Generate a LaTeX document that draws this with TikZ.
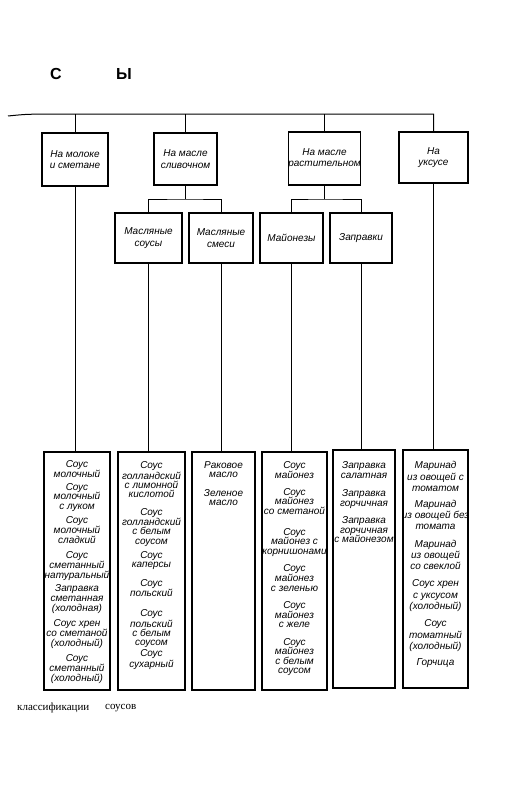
\documentclass[tikz,border=0pt]{standalone}
\usepackage{fontspec}
\newfontfamily\hand{Liberation Sans}
\newfontfamily\titlefont{Liberation Sans}
\newfontfamily\capfont{Liberation Serif}
\tikzset{
  box/.style={draw, line width=1.3pt, rectangle, inner sep=0pt, align=center,
    font=\hand\itshape\fontsize{10}{11.5}\selectfont},
  bigbox/.style={draw, line width=1.6pt, rectangle, inner sep=0pt},
  txt/.style={anchor=north, align=center, inner sep=0pt,
    font=\hand\itshape\fontsize{10}{#1}\selectfont},
  txt/.default=9.8,
  conn/.style={line width=1pt},
}
\begin{document}
\begin{tikzpicture}[x=1pt,y=-1pt]
\useasboundingbox (0,0) rectangle (510,800);
% title
\node[font=\titlefont\bfseries\fontsize{16}{16}\selectfont, inner sep=0pt] (ti1) at (56,74) {С};
\node[font=\titlefont\bfseries\fontsize{16}{16}\selectfont, inner sep=0pt] (ti2) at (124,74) {Ы};
% top level
\node[box, minimum width=66, minimum height=53] (T1) at (75,159.5) {На молоке\\и сметане};
\node[box, minimum width=63, minimum height=52] (T2) at (185.5,159) {На масле\\сливочном};
\node[box, minimum width=67, minimum height=53] (T3) at (324.5,158.5) {На масле\\растительном};
\node[box, minimum width=69, minimum height=51] (T4) at (433.5,157.5) {На\\уксусе};
% second level
\node[box, minimum width=67, minimum height=50] (S1) at (148.5,238) {Масляные\\соусы};
\node[box, minimum width=64, minimum height=50] (S2) at (221,238) {Масляные\\смеси};
\node[box, minimum width=63, minimum height=50] (S3) at (291.5,238) {Майонезы};
\node[box, minimum width=62, minimum height=50] (S4) at (361,238) {Заправки};
% bottom boxes
\node[bigbox, minimum width=66, minimum height=238] (B1) at (77,571) {};
\node[bigbox, minimum width=67, minimum height=238] (B2) at (151.5,571) {};
\node[bigbox, minimum width=63, minimum height=238] (B3) at (223.5,571) {};
\node[bigbox, minimum width=65, minimum height=238] (B4) at (294.5,571) {};
\node[bigbox, minimum width=62, minimum height=238] (B5) at (364,569) {};
\node[bigbox, minimum width=65, minimum height=238] (B6) at (435.5,569) {};
% bus
\coordinate (busL) at (8,116);
\coordinate (busM) at (45,114);
\coordinate (busR) at (433.5,114);
\draw[conn] (busL) .. controls (25,114.3) .. (busM) -- (busR) -- (T4.north);
\draw[conn] (T1.north) -- (T1.north |- busR);
\draw[conn] (T2.north) -- (T2.north |- busR);
\draw[conn] (T3.north) -- (T3.north |- busR);
% sub connectors
\coordinate (j2) at (185.5,199);
\coordinate (j3) at (324.5,199);
\draw[conn] (T2.south) -- (j2);
\draw[conn] (S1.north) |- (j2) -| (S2.north);
\draw[conn] (T3.south) -- (j3);
\draw[conn] (S3.north) |- (j3) -| (S4.north);
% verticals to bottom boxes
\draw[conn] (T1.south) -- (T1.south |- B1.north);
\draw[conn] (S1.south) -- (S1.south |- B2.north);
\draw[conn] (S2.south) -- (S2.south |- B3.north);
\draw[conn] (S3.south) -- (S3.south |- B4.north);
\draw[conn] (S4.south) -- (S4.south |- B5.north);
\draw[conn] (T4.south) -- (T4.south |- B6.north);
% box 1
\node[txt] (b1a) at (77,460.4) {Соус\\молочный};
\node[txt] (b1b) at (77,483) {Соус\\молочный\\с луком};
\node[txt] (b1c) at (77,516.4) {Соус\\молочный\\сладкий};
\node[txt] (b1d) at (77,551.4) {Соус\\сметанный\\натуральный};
\node[txt] (b1e) at (77,584.4) {Заправка\\сметанная\\(холодная)};
\node[txt] (b1f) at (77,619.4) {Соус хрен\\со сметаной\\(холодный)};
\node[txt] (b1g) at (77,654.4) {Соус\\сметанный\\(холодный)};
% box 2
\node[txt=9.3] (b2a) at (151.5,461.4) {Соус\\голландский\\с лимонной\\кислотой};
\node[txt=9.3] (b2b) at (151.5,508) {Соус\\голландский\\с белым\\соусом};
\node[txt=9.3] (b2c) at (151.5,551.4) {Соус\\каперсы};
\node[txt=9.3] (b2d) at (151.5,579) {Соус\\польский};
\node[txt=9.3] (b2e) at (151.5,609.4) {Соус\\польский\\с белым\\соусом};
\node[txt=9.3] (b2f) at (151.5,649.7) {Соус\\сухарный};
% box 3
\node[txt=8.8] (b3a) at (223.5,461.4) {Раковое\\масло};
\node[txt=8.8] (b3b) at (223.5,489.7) {Зеленое\\масло};
% box 4
\node[txt=9.6] (b4a) at (294.5,461.4) {Соус\\майонез};
\node[txt=9.6] (b4b) at (294.5,488) {Соус\\майонез\\со сметаной};
\node[txt=9.6] (b4c) at (294.5,528) {Соус\\майонез с\\корнишонами};
\node[txt=9.6] (b4d) at (294.5,564.7) {Соус\\майонез\\с зеленью};
\node[txt=9.6] (b4e) at (294.5,601.4) {Соус\\майонез\\с желе};
\node[txt=9.6] (b4f) at (294.5,638) {Соус\\майонез\\с белым\\соусом};
% box 5
\node[txt=9.6] (b5a) at (364,461.4) {Заправка\\салатная};
\node[txt=9.6] (b5b) at (364,489.7) {Заправка\\горчичная};
\node[txt=9.6] (b5c) at (364,516.4) {Заправка\\горчичная\\с майонезом};
% box 6
\node[txt=11.3] (b6a) at (435.5,461.4) {Маринад\\из овощей с\\томатом};
\node[txt=11.3] (b6b) at (435.5,499.7) {Маринад\\из овощей без\\томата};
\node[txt=11.3] (b6c) at (435.5,539.7) {Маринад\\из овощей\\со свеклой};
\node[txt=11.3] (b6d) at (435.5,579.7) {Соус хрен\\с уксусом\\(холодный)};
\node[txt=11.3] (b6e) at (435.5,619.7) {Соус\\томатный\\(холодный)};
\node[txt=11.3] (b6f) at (435.5,658) {Горчица};
% caption
\node[anchor=west, inner sep=0pt, font=\capfont\fontsize{11}{11}\selectfont] (cap1) at (17,708) {классификации};
\node[anchor=west, inner sep=0pt, font=\capfont\fontsize{11}{11}\selectfont] (cap2) at (105,708) {соусов};
\end{tikzpicture}
\end{document}
